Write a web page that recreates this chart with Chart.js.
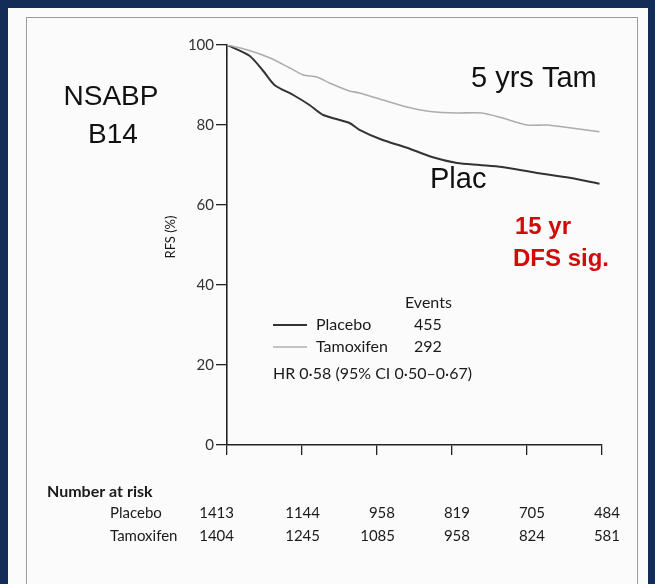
<!DOCTYPE html>
<html>
<head>
<meta charset="utf-8">
<script src="https://cdn.jsdelivr.net/npm/chart.js@4.4.1/dist/chart.umd.min.js"></script>
<style>
  html, body { margin: 0; padding: 0; }
  body { width: 655px; height: 584px; background: #132d58; position: relative; overflow: hidden; }
  #panel { position: absolute; left: 8px; top: 8px; width: 640px; height: 576px; background: #fbfbfb; }
  #frame { position: absolute; left: 26px; top: 17px; width: 610px; height: 580px; border: 1.5px solid #9c9c9c; }
  #c { position: absolute; left: 0; top: 0; }
</style>
</head>
<body>
<div id="panel"></div>
<div id="frame"></div>
<canvas id="c" width="655" height="584"></canvas>
<script>
// Kaplan-Meier curves (years, RFS %)
const placeboYears = [0, 0.9, 1.45, 1.9, 2.65, 3.3, 3.85, 4.9, 5.3, 6.2, 7.2, 8.2, 9.2, 10.1, 11, 12.4, 13.7, 14.9];
const placeboRfs   = [100, 97.3, 93.5, 90, 87.5, 85, 82.5, 80.5, 78.8, 76.3, 74.3, 72, 70.5, 70, 69.5, 68, 66.8, 65.3];
const tamYears = [0, 0.8, 1.7, 2.5, 3.05, 3.6, 4.1, 4.9, 5.3, 6.2, 7.2, 8.2, 9.2, 10.2, 11, 12, 12.8, 13.7, 14.9];
const tamRfs   = [100, 98.8, 96.8, 94.3, 92.5, 92, 90.5, 88.5, 88, 86.3, 84.5, 83.3, 83, 83, 81.8, 80, 80, 79.3, 78.3];

// number at risk table
const riskYears = [0, 3, 6, 9, 12, 15];
const riskPlacebo = [1413, 1144, 958, 819, 705, 484];
const riskTam = [1404, 1245, 1085, 958, 824, 581];
const events = { Placebo: 455, Tamoxifen: 292 };

const yTicks = [0, 20, 40, 60, 80, 100];
const F = "Lato, 'Open Sans', sans-serif";
const A = "'Liberation Sans', Arial, sans-serif";

const pts = (xs, ys) => xs.map((x, i) => ({ x, y: ys[i] }));

const overlay = {
  id: "overlay",
  afterDraw(chart) {
    const ctx = chart.ctx, xs = chart.scales.x;
    ctx.save();
    ctx.textBaseline = "alphabetic";
    // slide headings
    ctx.fillStyle = "#111"; ctx.font = "28px " + A; ctx.textAlign = "center";
    ctx.fillText("NSABP", 111, 105);
    ctx.fillText("B14", 113, 143);
    ctx.font = "29px " + A; ctx.textAlign = "left";
    ctx.fillText("5 yrs Tam", 471, 87);
    ctx.fillText("Plac", 430, 188);
    ctx.fillStyle = "#d10a0a"; ctx.font = "bold 24px " + A;
    ctx.fillText("15 yr", 515, 234);
    ctx.fillText("DFS sig.", 513, 266);

    // legend
    ctx.fillStyle = "#1a1a1a"; ctx.font = "16px " + F;
    ctx.fillText("Events", 405, 308);
    ctx.lineWidth = 1.8; ctx.strokeStyle = "#333";
    ctx.beginPath(); ctx.moveTo(273, 325); ctx.lineTo(307, 325); ctx.stroke();
    ctx.lineWidth = 1.5; ctx.strokeStyle = "#b0b0b0";
    ctx.beginPath(); ctx.moveTo(273, 347); ctx.lineTo(307, 347); ctx.stroke();
    ctx.fillText("Placebo", 316, 330);
    ctx.fillText("Tamoxifen", 316, 352);
    ctx.fillText(String(events.Placebo), 414, 330);
    ctx.fillText(String(events.Tamoxifen), 414, 352);
    ctx.fillText("HR 0·58 (95% CI 0·50–0·67)", 273, 379);

    // y title
    ctx.save();
    ctx.translate(175, 237); ctx.rotate(-Math.PI / 2);
    ctx.textAlign = "center"; ctx.font = "13px " + F;
    ctx.fillText("RFS (%)", 0, 0);
    ctx.restore();

    // number at risk
    ctx.font = "bold 16px " + F; ctx.textAlign = "left";
    ctx.fillText("Number at risk", 47, 497);
    ctx.font = "15px " + F;
    ctx.fillText("Placebo", 110, 518);
    ctx.fillText("Tamoxifen", 110, 541);
    ctx.textAlign = "right";
    riskYears.forEach((yr, i) => {
      const x = xs.getPixelForValue(yr) + (i === 0 ? 7 : 18);
      ctx.fillText(String(riskPlacebo[i]), x, 518);
      ctx.fillText(String(riskTam[i]), x, 541);
    });
    ctx.restore();
  }
};

new Chart(document.getElementById("c"), {
  type: "line",
  data: {
    datasets: [
      { label: "Tamoxifen", data: pts(tamYears, tamRfs), borderColor: "#adadad", borderWidth: 1.6, pointRadius: 0, tension: 0.25 },
      { label: "Placebo", data: pts(placeboYears, placeboRfs), borderColor: "#333", borderWidth: 2, pointRadius: 0, tension: 0.25 }
    ]
  },
  options: {
    responsive: false, animation: false, devicePixelRatio: 1,
    layout: { padding: { top: 45, right: 53, left: 0, bottom: 0 } },
    plugins: { legend: { display: false }, tooltip: { enabled: false } },
    scales: {
      x: {
        type: "linear", min: 0, max: 15,
        afterFit: (s) => { s.height = 139; },
        afterBuildTicks: (s) => { s.ticks = riskYears.map((v) => ({ value: v })); },
        ticks: { callback: () => "" },
        grid: { drawOnChartArea: false, drawTicks: true, tickLength: 10, color: "#222", lineWidth: 1.3 },
        border: { display: true, color: "#222", width: 1.6 }
      },
      y: {
        min: 0, max: 100,
        afterFit: (s) => { s.width = 227; },
        afterBuildTicks: (s) => { s.ticks = yTicks.map((v) => ({ value: v })); },
        ticks: { color: "#333", padding: 2, font: { family: F, size: 15 } },
        grid: { drawOnChartArea: false, drawTicks: true, tickLength: 11, color: "#222", lineWidth: 1.3 },
        border: { display: true, color: "#222", width: 1.6 }
      }
    }
  },
  plugins: [overlay]
});
</script>
</body>
</html>
